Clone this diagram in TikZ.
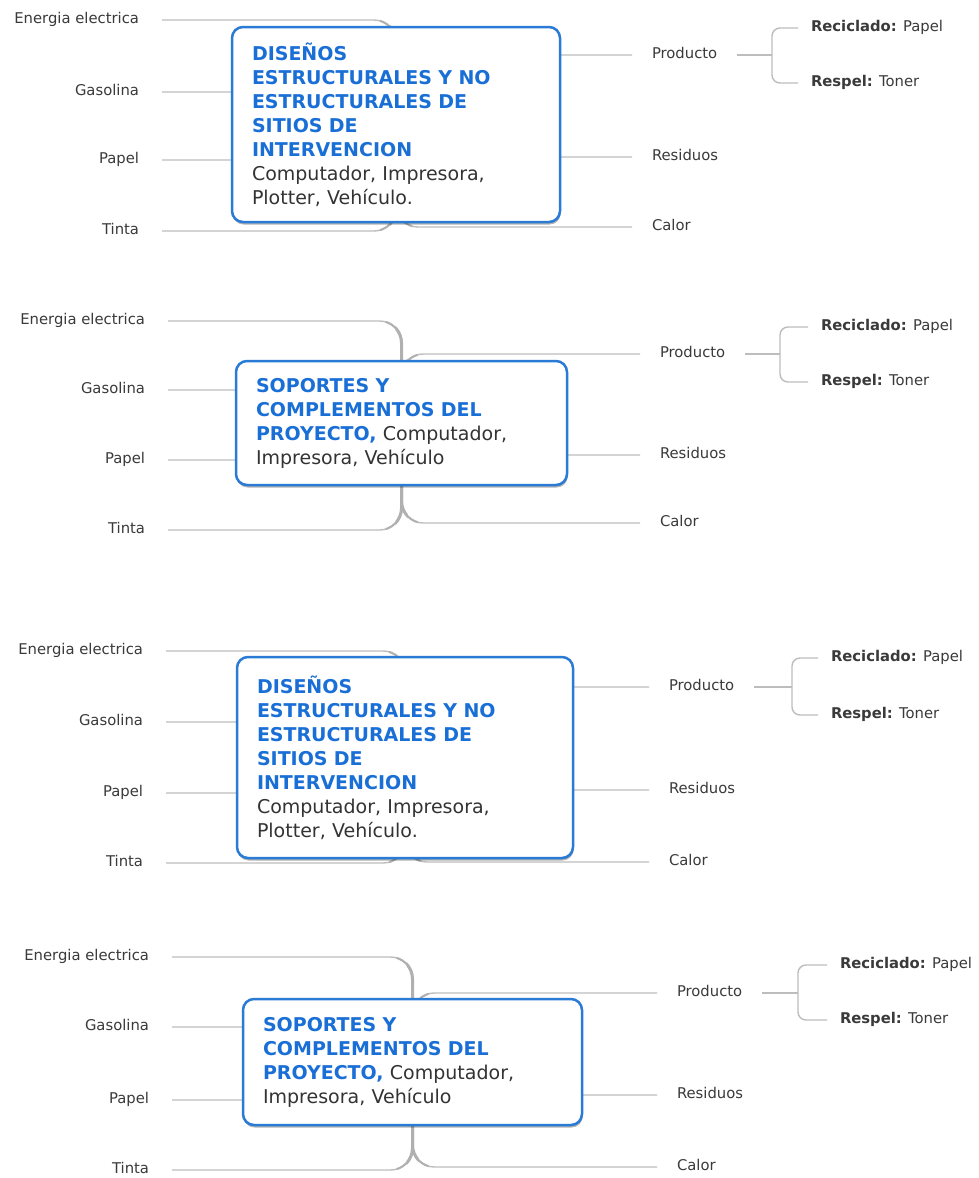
\documentclass[tikz,border=0pt]{standalone}
\usepackage{fontspec}
\setmainfont{DejaVu Sans}
\usetikzlibrary{shadows}

\definecolor{titleblue}{HTML}{1A6FD6}
\definecolor{boxblue}{HTML}{2A7BD6}
\definecolor{textgray}{HTML}{333333}
\definecolor{lblgray}{HTML}{3A3A3A}
\definecolor{linegray}{HTML}{BDBDBD}
\definecolor{trunkgray}{HTML}{B0B0B0}

\newcommand\lblfont{\fontsize{14.8}{18}\selectfont}
\newcommand\boxfont{\fontsize{19}{24}\selectfont}
\newcommand\ttl[1]{{\bfseries\color{titleblue}#1}}

% One mind-map block: inputs on the left, central box, outputs on the right.
% #1 = name prefix, #2 = text of the central box.
\newcommand\mapblock[2]{%
  \coordinate (#1-c) at (\mbCX,\mbCY);
  % inputs
  \node[inlbl] (#1-en) at (\mbLS,\mbEY) {Energia electrica};
  \node[inlbl] (#1-ga) at (\mbLS,\mbGY) {Gasolina};
  \node[inlbl] (#1-pa) at (\mbLS,\mbPY) {Papel};
  \node[inlbl] (#1-ti) at (\mbLS,\mbTY) {Tinta};
  % outputs
  \node[outlbl] (#1-pr) at (\mbRE,\mbPRY) {Producto};
  \node[outlbl] (#1-re) at (\mbRE,\mbRSY) {Residuos};
  \node[outlbl] (#1-ca) at (\mbRE,\mbCAY) {Calor};
  \coordinate (#1-k) at (\mbKB,\mbPRY);
  \node[sublbl] (#1-rc) at (\mbKC,\mbRCY) {\textbf{Reciclado:} Papel};
  \node[sublbl] (#1-rp) at (\mbKC,\mbRPY) {\textbf{Respel:} Toner};
  % branches from the centre
  \foreach \n in {en,ga,pa,ti,pr,re,ca} \draw[branch] (#1-c) |- (#1-\n);
  % the branches thicken towards the trunk
  \begin{scope}
    \clip (\mbCX-16,0) rectangle (\mbCX+16,1178);
    \foreach \n in {en,ti,pr,ca} \draw[branch, draw=trunkgray, line width=2pt] (#1-c) |- (#1-\n);
  \end{scope}
  \begin{scope}
    \clip (\mbCX-6,0) rectangle (\mbCX+6,1178);
    \foreach \n in {en,ti,pr,ca} \draw[branch, draw=trunkgray, line width=3pt] (#1-c) |- (#1-\n);
  \end{scope}
  % product bracket
  \draw[branch] (#1-pr) -- (#1-k);
  \draw[branch, rounded corners=8pt] (#1-k) |- (#1-rc);
  \draw[branch, rounded corners=8pt] (#1-k) |- (#1-rp);
  % central box
  \node[box, minimum width=\mbW pt, minimum height=\mbH pt, text width=\mbTW pt] (#1-box) at (#1-c) {#2};
}

\begin{document}
\begin{tikzpicture}[x=1pt, y=-1pt,
  inlbl/.style={font=\lblfont, text=lblgray, inner sep=0pt, outer xsep=23pt, outer ysep=0pt,
    text height=10pt, text depth=3pt, anchor=east},
  outlbl/.style={font=\lblfont, text=lblgray, inner sep=0pt, outer xsep=20pt, outer ysep=0pt,
    text height=10pt, text depth=3pt, anchor=west},
  sublbl/.style={font=\lblfont, text=lblgray, inner sep=0pt, outer xsep=13pt, outer ysep=0pt,
    text height=10pt, text depth=3pt, anchor=west},
  branch/.style={draw=linegray, line width=1.4pt, rounded corners=22pt},
  box/.style={draw=boxblue, line width=2.5pt, fill=white, rounded corners=11pt,
    inner xsep=20pt, inner ysep=0pt, align=left, font=\boxfont, text=textgray,
    drop shadow={shadow xshift=0.6pt, shadow yshift=-2.5pt, opacity=0.3, fill=black}}
]
\fill[white] (0,0) rectangle (979,1178);
\useasboundingbox (0,0) rectangle (979,1178);

% block 1
\def\mbCX{396}\def\mbCY{124.5}\def\mbW{328}\def\mbH{195}\def\mbTW{288}
\def\mbLS{162}\def\mbEY{20}\def\mbGY{92}\def\mbPY{160}\def\mbTY{231}
\def\mbRE{632}\def\mbPRY{55}\def\mbRSY{157}\def\mbCAY{227}
\def\mbKB{772}\def\mbKC{798}\def\mbRCY{28}\def\mbRPY{83}
\mapblock{a}{\ttl{DISEÑOS}\\\ttl{ESTRUCTURALES Y NO}\\\ttl{ESTRUCTURALES DE}\\\ttl{SITIOS DE}\\\ttl{INTERVENCION}\\Computador, Impresora,\\Plotter, Vehículo.}

% block 2
\def\mbCX{401.5}\def\mbCY{423}\def\mbW{331}\def\mbH{124}\def\mbTW{291}
\def\mbLS{168}\def\mbEY{321}\def\mbGY{390}\def\mbPY{460}\def\mbTY{530}
\def\mbRE{640}\def\mbPRY{354}\def\mbRSY{455}\def\mbCAY{523}
\def\mbKB{780}\def\mbKC{808}\def\mbRCY{327}\def\mbRPY{382}
\mapblock{b}{\ttl{SOPORTES Y}\\\ttl{COMPLEMENTOS DEL}\\\ttl{PROYECTO,} Computador,\\Impresora, Vehículo}

% block 3
\def\mbCX{405}\def\mbCY{757.5}\def\mbW{336}\def\mbH{201}\def\mbTW{296}
\def\mbLS{166}\def\mbEY{651}\def\mbGY{722}\def\mbPY{793}\def\mbTY{863}
\def\mbRE{649}\def\mbPRY{687}\def\mbRSY{790}\def\mbCAY{862}
\def\mbKB{792}\def\mbKC{818}\def\mbRCY{658}\def\mbRPY{715}
\mapblock{c}{\ttl{DISEÑOS}\\\ttl{ESTRUCTURALES Y NO}\\\ttl{ESTRUCTURALES DE}\\\ttl{SITIOS DE}\\\ttl{INTERVENCION}\\Computador, Impresora,\\Plotter, Vehículo.}

% block 4
\def\mbCX{412.5}\def\mbCY{1062}\def\mbW{339}\def\mbH{126}\def\mbTW{299}
\def\mbLS{172}\def\mbEY{957}\def\mbGY{1027}\def\mbPY{1100}\def\mbTY{1170}
\def\mbRE{657}\def\mbPRY{993}\def\mbRSY{1095}\def\mbCAY{1167}
\def\mbKB{798}\def\mbKC{827}\def\mbRCY{965}\def\mbRPY{1020}
\mapblock{d}{\ttl{SOPORTES Y}\\\ttl{COMPLEMENTOS DEL}\\\ttl{PROYECTO,} Computador,\\Impresora, Vehículo}
\end{tikzpicture}
\end{document}
